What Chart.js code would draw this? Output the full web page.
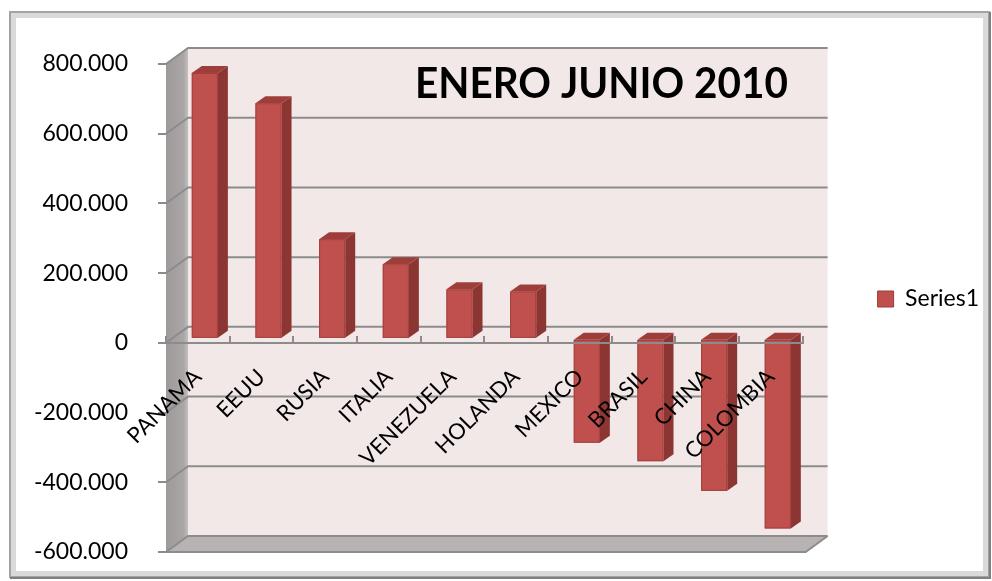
<!DOCTYPE html>
<html>
<head>
<meta charset="utf-8">
<script src="https://cdn.jsdelivr.net/npm/chart.js@4/dist/chart.umd.min.js"></script>
<style>
  html, body { margin: 0; padding: 0; background: #ffffff; }
  canvas { display: block; }
</style>
</head>
<body>
<canvas id="chart" width="992" height="581"></canvas>
<script>
// ---- data ----
const countries = ['PANAMA', 'EEUU', 'RUSIA', 'ITALIA', 'VENEZUELA', 'HOLANDA', 'MEXICO', 'BRASIL', 'CHINA', 'COLOMBIA'];
const series1 = [763000, 676000, 286000, 214000, 142000, 136000, -298000, -351000, -436000, -544000];
const seriesName = 'Series1';
const chartTitle = 'ENERO JUNIO 2010';
const yMin = -600000;
const yMax = 800000;
const yStep = 200000;

// ---- 3D look ----
const WALL_DX = 22, WALL_DY = -16;      // back wall offset from the front plane
const BAR_DX = 7, BAR_DY = -4;          // columns stand a little inside the box
const BAR_DEPTH_X = 10, BAR_DEPTH_Y = -7;
const GRID_COLOR = '#8C8C8C';
const LEGEND_LIFT = 9;                  // legend sits slightly above the plot's middle

function formatThousands(v) {
  const s = Math.abs(v).toString().replace(/\B(?=(\d{3})+(?!\d))/g, '.');
  return (v < 0 ? '-' : '') + s;
}

const box3d = {
  id: 'box3d',
  afterLayout(chart) {
    if (chart.legend) {
      chart.legend.top -= LEGEND_LIFT;
      chart.legend.bottom -= LEGEND_LIFT;
    }
  },
  beforeDraw(chart) {
    const ctx = chart.ctx;
    ctx.save();
    // outer frame with a soft bevel
    ctx.strokeStyle = '#DADADA';
    ctx.lineWidth = 5;
    ctx.strokeRect(13.5, 15.5, 972, 558);
    ctx.strokeStyle = '#A3A3A3';
    ctx.lineWidth = 2;
    ctx.strokeRect(10, 12, 979, 565);
    ctx.strokeStyle = '#808080';
    ctx.lineWidth = 2;
    ctx.beginPath();
    ctx.moveTo(10, 578); ctx.lineTo(990, 578); ctx.lineTo(990, 12);
    ctx.stroke();
    ctx.restore();
  },
  beforeDatasetsDraw(chart) {
    const { ctx, chartArea: a, scales } = chart;
    const y = scales.y;
    const right = a.right + 3;
    ctx.save();

    // back wall
    ctx.fillStyle = '#F3E8E8';
    ctx.fillRect(a.left + WALL_DX, a.top + WALL_DY, right - a.left, a.bottom - a.top);

    // left side wall
    const g = ctx.createLinearGradient(a.left, 0, a.left + WALL_DX, 0);
    g.addColorStop(0, '#9E9A9A');
    g.addColorStop(0.8, '#AAA6A6');
    g.addColorStop(1, '#C4C0C0');
    ctx.fillStyle = g;
    ctx.beginPath();
    ctx.moveTo(a.left, a.top);
    ctx.lineTo(a.left + WALL_DX, a.top + WALL_DY);
    ctx.lineTo(a.left + WALL_DX, a.bottom + WALL_DY);
    ctx.lineTo(a.left, a.bottom);
    ctx.closePath();
    ctx.fill();

    // floor
    ctx.fillStyle = '#B8B3B3';
    ctx.beginPath();
    ctx.moveTo(a.left, a.bottom);
    ctx.lineTo(a.left + WALL_DX, a.bottom + WALL_DY);
    ctx.lineTo(right + WALL_DX, a.bottom + WALL_DY);
    ctx.lineTo(right, a.bottom);
    ctx.closePath();
    ctx.fill();

    // gridlines on the back wall and the side wall
    ctx.strokeStyle = GRID_COLOR;
    ctx.lineWidth = 2;
    y.ticks.forEach(t => {
      const py = y.getPixelForValue(t.value);
      ctx.beginPath();
      ctx.moveTo(a.left, py);
      ctx.lineTo(a.left + WALL_DX, py + WALL_DY);
      ctx.lineTo(right + WALL_DX, py + WALL_DY);
      ctx.stroke();
    });
    // floor front and right edges
    ctx.beginPath();
    ctx.moveTo(right + WALL_DX, a.bottom + WALL_DY);
    ctx.lineTo(right, a.bottom);
    ctx.lineTo(a.left - 8, a.bottom);
    ctx.stroke();

    // columns
    const meta = chart.getDatasetMeta(0);
    meta.data.forEach(el => {
      const p = el.getProps(['x', 'y', 'base', 'width'], true);
      const l = p.x - p.width / 2 + BAR_DX;
      const r = l + p.width;
      const t = Math.min(p.y, p.base) + BAR_DY;
      const b = Math.max(p.y, p.base) + BAR_DY;
      ctx.lineWidth = 1;
      // side face
      ctx.fillStyle = '#8C3633';
      ctx.beginPath();
      ctx.moveTo(r, t); ctx.lineTo(r + BAR_DEPTH_X, t + BAR_DEPTH_Y);
      ctx.lineTo(r + BAR_DEPTH_X, b + BAR_DEPTH_Y); ctx.lineTo(r, b);
      ctx.closePath(); ctx.fill();
      // top face
      ctx.fillStyle = '#9E3E3B';
      ctx.beginPath();
      ctx.moveTo(l, t); ctx.lineTo(l + BAR_DEPTH_X, t + BAR_DEPTH_Y);
      ctx.lineTo(r + BAR_DEPTH_X, t + BAR_DEPTH_Y); ctx.lineTo(r, t);
      ctx.closePath(); ctx.fill();
      // front face
      ctx.fillStyle = '#C0504D';
      ctx.fillRect(l, t, p.width, b - t);
      ctx.strokeStyle = '#A1403D';
      ctx.strokeRect(l + 0.5, t + 0.5, p.width - 1, b - t - 1);
    });
    ctx.restore();
    return false;
  },
  afterDraw(chart) {
    const ctx = chart.ctx;
    ctx.save();
    ctx.font = 'bold 42px Lato';
    ctx.fillStyle = '#000000';
    ctx.textBaseline = 'alphabetic';
    const w = ctx.measureText(chartTitle).width;
    const target = 373;
    ctx.translate(415, 98);
    ctx.scale(target / w, 1);
    ctx.fillText(chartTitle, 0, 0);
    ctx.restore();
  }
};

new Chart(document.getElementById('chart'), {
  type: 'bar',
  data: {
    labels: countries,
    datasets: [{
      label: seriesName,
      data: series1,
      backgroundColor: '#C0504D',
      borderColor: '#9B3B38',
      borderWidth: 1,
      categoryPercentage: 1,
      barPercentage: 0.41
    }]
  },
  options: {
    responsive: false,
    devicePixelRatio: 1,
    animation: false,
    events: [],
    layout: { padding: { left: 16, top: 64, bottom: 29, right: 3 } },
    plugins: {
      title: { display: false },
      tooltip: { enabled: false },
      legend: {
        display: true,
        position: 'right',
        labels: {
          boxWidth: 16,
          boxHeight: 16,
          padding: 75,
          color: '#000000',
          font: { family: 'Lato', size: 23 }
        }
      }
    },
    scales: {
      x: {
        position: { y: 0 },
        afterFit(scale) {
          scale.height = 0;
          scale.paddingLeft = 0; scale.paddingRight = 0;
          scale.paddingTop = 0; scale.paddingBottom = 0;
        },
        grid: {
          z: 1,
          offset: true,
          drawOnChartArea: false,
          drawTicks: true,
          tickLength: -8,
          color: GRID_COLOR,
          lineWidth: 2
        },
        border: { z: 1, display: true, color: GRID_COLOR, width: 2 },
        ticks: {
          z: 1,
          autoSkip: false,
          minRotation: 45,
          maxRotation: 45,
          padding: 29,
          labelOffset: 0,
          color: '#000000',
          font: { family: 'Lato', size: 22 }
        }
      },
      y: {
        min: yMin,
        max: yMax,
        afterFit(scale) {
          scale.width = 150;
          scale.paddingTop = 0; scale.paddingBottom = 0;
        },
        grid: {
          drawOnChartArea: false,
          drawTicks: true,
          tickLength: 8,
          color: GRID_COLOR,
          lineWidth: 2
        },
        border: { display: false },
        ticks: {
          stepSize: yStep,
          padding: 30,
          color: '#000000',
          font: { family: 'Lato', size: 23 },
          callback: v => formatThousands(v)
        }
      }
    }
  },
  plugins: [box3d]
});
</script>
</body>
</html>
